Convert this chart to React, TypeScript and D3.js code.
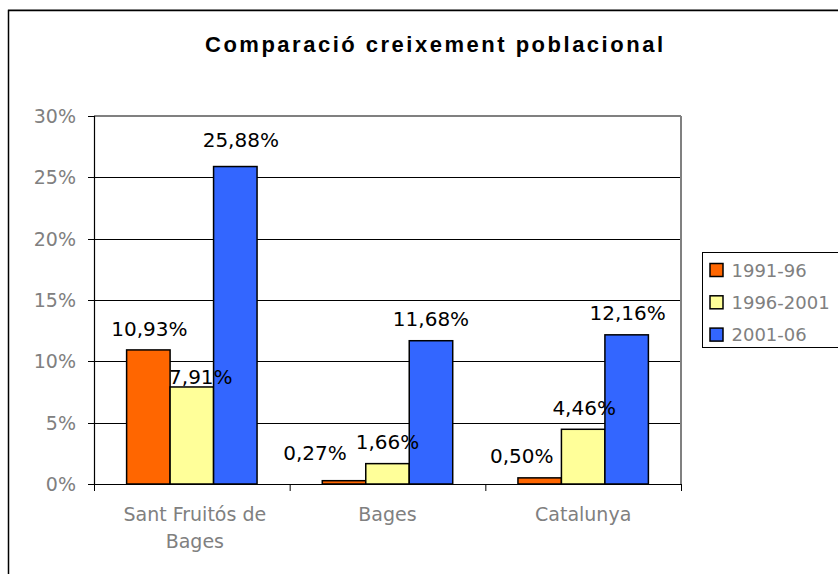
import React from "react";
import * as d3 from "d3";

const categories = ["Sant Fruitós de Bages", "Bages", "Catalunya"];
const categoryLines = [["Sant Fruitós de", "Bages"], ["Bages"], ["Catalunya"]];
const seriesNames = ["1991-96", "1996-2001", "2001-06"];
const values1991_96 = [10.93, 0.27, 0.5];
const values1996_2001 = [7.91, 1.66, 4.46];
const values2001_06 = [25.88, 11.68, 12.16];
const yTicks = [0, 5, 10, 15, 20, 25, 30];
const seriesColors = ["#FF6600", "#FFFF99", "#3366FF"];
// label nudges (dx, dy) relative to bar top-centre, per series then category
const labelNudges = [
  [[1, -14], [-29, -21], [-18, -15]],
  [[9, -3], [0, -14.5], [1, -14]],
  [[5.5, -20], [0, -14.5], [1, -15]],
];

const seriesValues = [values1991_96, values1996_2001, values2001_06];

const fmt = (v: number) => v.toFixed(2).replace(".", ",") + "%";

export default function App() {
  const W = 838, H = 574;
  const left = 94, right = 681, top = 116, bottom = 484;
  const x0 = d3.scaleBand<string>().domain(categories).range([left, right]).paddingInner(0).paddingOuter(0);
  const x1 = d3.scaleBand<string>().domain(seriesNames).range([0, x0.bandwidth()]).paddingInner(0).paddingOuter(0.75);
  const y = d3.scaleLinear().domain([0, 30]).range([bottom, top]);
  const gray = "#808080";
  const font = "'DejaVu Sans', Verdana, sans-serif";
  const boundaries = [...categories.map((c) => x0(c)!), right];

  return (
    <div style={{ position: "fixed", left: 0, top: 0 }}>
      <svg width={W} height={H} style={{ display: "block", background: "#fff" }}>
        {/* outer chart border */}
        <line x1={8} y1={9.5} x2={W + 5} y2={9.5} stroke="#aaa" strokeWidth={1} />
        <rect x={8.5} y={10.5} width={W + 10} height={H + 10} fill="none" stroke="#000" strokeWidth={1.5} />
        {/* title */}
        <text x={434} y={51.5} textAnchor="middle" fontFamily="'Liberation Sans', Arial, sans-serif" fontWeight="bold" fontSize={22} textLength={458} lengthAdjust="spacing" fill="#000">
          Comparació creixement poblacional
        </text>
        {/* gridlines */}
        {yTicks.filter((t) => t > 0 && t < 30).map((t) => (
          <line key={t} x1={left} x2={right} y1={Math.round(y(t)) + 0.5} y2={Math.round(y(t)) + 0.5} stroke="#000" strokeWidth={1} />
        ))}
        {/* plot border top / right */}
        <line x1={left} x2={right} y1={top} y2={top} stroke={gray} strokeWidth={2} />
        <line x1={right} x2={right} y1={top} y2={bottom} stroke={gray} strokeWidth={2} />
        {/* y ticks and labels */}
        {yTicks.map((t) => (
          <g key={t}>
            <line x1={88} x2={left} y1={Math.round(y(t)) + 0.5} y2={Math.round(y(t)) + 0.5} stroke="#000" strokeWidth={1} />
            <text x={76} y={y(t) + 7} textAnchor="end" fontFamily={font} fontSize={19} fill={gray}>
              {t}%
            </text>
          </g>
        ))}
        {/* bars */}
        {seriesNames.map((s, si) =>
          categories.map((c, ci) => {
            const v = seriesValues[si][ci];
            const bx = x0(c)! + x1(s)!;
            return (
              <rect key={s + c} x={bx} y={y(v)} width={x1.bandwidth()} height={bottom - y(v)} fill={seriesColors[si]} stroke="#000" strokeWidth={1.5} />
            );
          })
        )}
        {/* axes */}
        <line x1={left + 0.5} x2={left + 0.5} y1={top} y2={bottom} stroke="#000" strokeWidth={1.2} />
        <line x1={left} x2={right} y1={bottom + 0.5} y2={bottom + 0.5} stroke="#000" strokeWidth={1.2} />
        {boundaries.map((b, i) => (
          <line key={i} x1={b + 0.5} x2={b + 0.5} y1={bottom} y2={bottom + 7} stroke="#000" strokeWidth={1} />
        ))}
        {/* data labels */}
        {seriesNames.map((s, si) =>
          categories.map((c, ci) => {
            const v = seriesValues[si][ci];
            const cx = x0(c)! + x1(s)! + x1.bandwidth() / 2;
            const [dx, dy] = labelNudges[si][ci];
            return (
              <text key={"l" + s + c} x={cx + dx} y={y(v) + dy} textAnchor="middle" fontFamily={font} fontSize={20} fill="#000">
                {fmt(v)}
              </text>
            );
          })
        )}
        {/* category labels */}
        {categories.map((c, ci) => (
          <text key={c} textAnchor="middle" fontFamily={font} fontSize={19} fill={gray}>
            {categoryLines[ci].map((ln, li) => (
              <tspan key={li} x={x0(c)! + x0.bandwidth() / 2 + (ci === 0 ? 3 : 0)} y={520.5 + li * 27.7}>
                {ln}
              </tspan>
            ))}
          </text>
        ))}
        {/* legend */}
        <rect x={702.5} y={252.5} width={150} height={95} fill="#fff" stroke="#000" strokeWidth={1} />
        {seriesNames.map((s, si) => (
          <g key={s}>
            <rect x={710} y={263.5 + si * 32.3} width={13} height={13} fill={seriesColors[si]} stroke="#000" strokeWidth={1.5} />
            <text x={731.5} y={276.5 + si * 32.3} fontFamily={font} fontSize={18} fill={gray}>
              {s}
            </text>
          </g>
        ))}
      </svg>
    </div>
  );
}
